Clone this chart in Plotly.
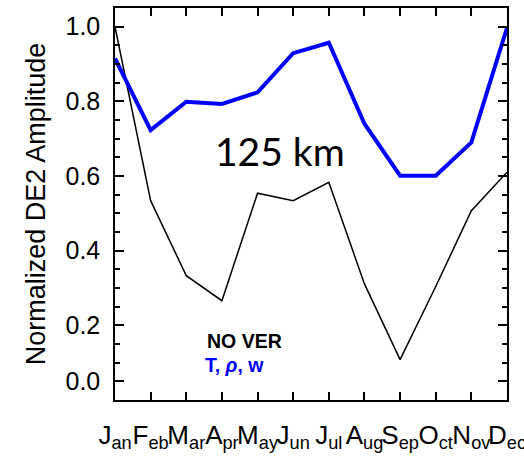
import plotly.graph_objects as go

months = ["Jan", "Feb", "Mar", "Apr", "May", "Jun", "Jul", "Aug", "Sep", "Oct", "Nov", "Dec"]
no_ver = [1.0, 0.534, 0.333, 0.266, 0.554, 0.534, 0.583, 0.311, 0.108, 0.304, 0.507, 0.610]
t_rho_w = [0.915, 0.723, 0.799, 0.793, 0.824, 0.929, 0.957, 0.740, 0.601, 0.601, 0.690, 0.997]
y_tick_vals = [0.05, 0.2, 0.4, 0.6, 0.8, 1.0]
y_tick_text = ["0.0", "0.2", "0.4", "0.6", "0.8", "1.0"]
y_minor_vals = [0.1, 0.15, 0.25, 0.3, 0.35, 0.45, 0.5, 0.55, 0.65, 0.7, 0.75, 0.85, 0.9, 0.95]

x = list(range(len(months)))
month_labels = [m[0] + "<sub>" + m[1:] + "</sub>" for m in months]

fig = go.Figure()
fig.add_trace(go.Scatter(x=x, y=no_ver, mode="lines", line=dict(color="black", width=1.5),
                         showlegend=False))
fig.add_trace(go.Scatter(x=x, y=t_rho_w, mode="lines", line=dict(color="#0000ff", width=4),
                         showlegend=False))
# empty trace so that the minor-tick overlay axis is drawn
fig.add_trace(go.Scatter(x=[None], y=[None], yaxis="y2", showlegend=False, hoverinfo="skip"))

fig.update_layout(
    width=524, height=460,
    margin=dict(l=115, r=17, t=8, b=60),
    plot_bgcolor="white", paper_bgcolor="white",
    font=dict(family="Liberation Sans, Arial", color="black"),
    xaxis=dict(range=[0, 11], tickvals=x, ticktext=month_labels, ticks="inside", ticklen=8,
               tickwidth=1.5, tickcolor="black", showline=True, linecolor="black", linewidth=1.5,
               mirror="ticks", showgrid=False, zeroline=False, tickangle=0, automargin=False,
               ticklabeloverflow="allow",
               tickfont=dict(size=26, color="black"), ticklabelstandoff=11),
    yaxis=dict(range=[0, 1.05], tickvals=y_tick_vals, ticktext=y_tick_text, ticks="inside",
               ticklen=9, tickwidth=1.5, tickcolor="black", showline=True, linecolor="black",
               linewidth=1.5, mirror="ticks", showgrid=False, zeroline=False, automargin=False,
               tickfont=dict(size=25, color="black"), ticklabelstandoff=8,
               title=dict(text="Normalized DE2 Amplitude", font=dict(size=27, color="black"),
                          standoff=12)),
    yaxis2=dict(overlaying="y", side="left", range=[0, 1.05], tickvals=y_minor_vals,
                showticklabels=False, ticks="inside", ticklen=5, tickwidth=1.5,
                tickcolor="black", showline=True, linecolor="black", linewidth=1.5,
                mirror="ticks", showgrid=False, zeroline=False, automargin=False),
)

fig.add_annotation(xref="paper", yref="paper", x=(280 - 115) / 392, y=(400 - 151) / 392,
                   xanchor="center", yanchor="middle", showarrow=False,
                   text="125 km", font=dict(family="Lato", size=39, color="black"))
fig.add_annotation(xref="paper", yref="paper", x=(205 - 115) / 392, y=(400 - 340.5) / 392,
                   xanchor="left", yanchor="middle", showarrow=False,
                   text="<b>NO VER</b>", font=dict(size=19.5, color="black"))
fig.add_annotation(xref="paper", yref="paper", x=(203 - 115) / 392, y=(400 - 365) / 392,
                   xanchor="left", yanchor="middle", showarrow=False,
                   text="<b>T, <i>ρ</i>, w</b>", font=dict(size=19.5, color="#0000ff"))

fig.write_html("out.html")
